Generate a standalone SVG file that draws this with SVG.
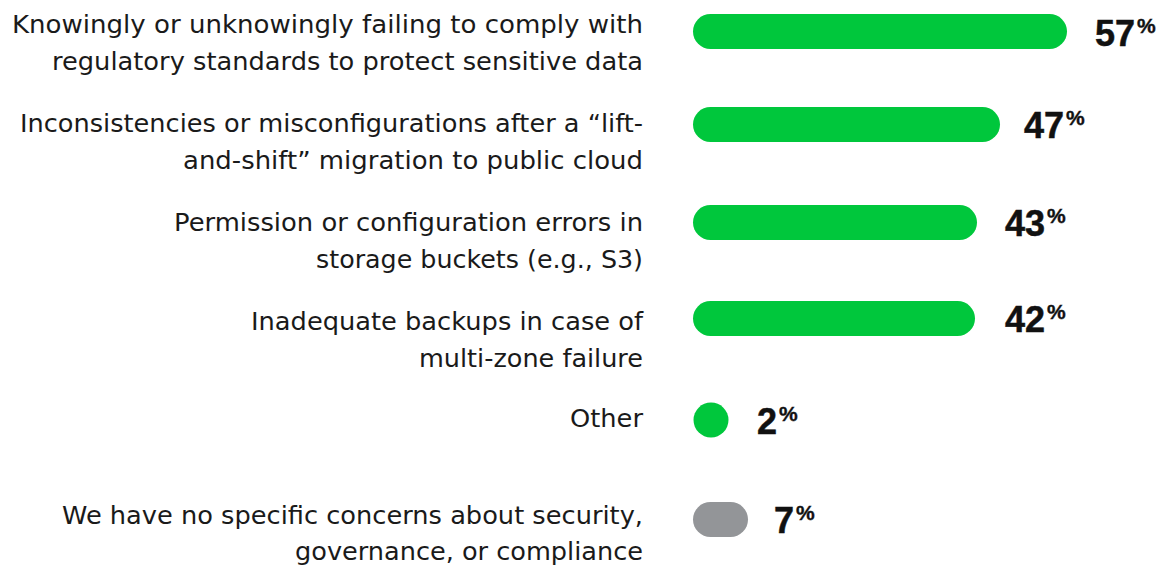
<svg xmlns="http://www.w3.org/2000/svg" width="1162" height="565" viewBox="0 0 1162 565">
<style>
.lbl{font-family:"DejaVu Sans","Liberation Sans",Arial,sans-serif;font-size:25px;fill:#1a1a1a;text-anchor:end}
.num{font-family:"Liberation Sans",Arial,sans-serif;font-size:36px;font-weight:bold;fill:#111;stroke:#111;stroke-width:0.5}
.pct{font-size:21px;stroke-width:0.4}
.bar{fill:#00C73C}
.gray{fill:#939598}
</style>
<rect width="1162" height="565" fill="#fff"/>
<g id="row1">
<text class="lbl" x="643" y="33" textLength="631" lengthAdjust="spacingAndGlyphs">Knowingly or unknowingly failing to comply with</text>
<text class="lbl" x="643" y="70" textLength="591" lengthAdjust="spacingAndGlyphs">regulatory standards to protect sensitive data</text>
<rect class="bar" x="693" y="14" width="374" height="35" rx="17.5"/>
<text class="num" x="1095" y="46">57<tspan class="pct" dx="2" dy="-13">%</tspan></text>
</g>
<g id="row2">
<text class="lbl" x="643" y="132" textLength="623" lengthAdjust="spacingAndGlyphs">Inconsistencies or misconfigurations after a “lift-</text>
<text class="lbl" x="643" y="169" textLength="460" lengthAdjust="spacingAndGlyphs">and-shift” migration to public cloud</text>
<rect class="bar" x="693" y="107" width="307" height="35" rx="17.5"/>
<text class="num" x="1024" y="138">47<tspan class="pct" dx="2" dy="-13">%</tspan></text>
</g>
<g id="row3">
<text class="lbl" x="643" y="231" textLength="469" lengthAdjust="spacingAndGlyphs">Permission or configuration errors in</text>
<text class="lbl" x="643" y="268" textLength="327" lengthAdjust="spacingAndGlyphs">storage buckets (e.g., S3)</text>
<rect class="bar" x="693" y="205" width="284" height="35" rx="17.5"/>
<text class="num" x="1005" y="236">43<tspan class="pct" dx="2" dy="-13">%</tspan></text>
</g>
<g id="row4">
<text class="lbl" x="643" y="330" textLength="392" lengthAdjust="spacingAndGlyphs">Inadequate backups in case of</text>
<text class="lbl" x="643" y="367" textLength="224" lengthAdjust="spacingAndGlyphs">multi-zone failure</text>
<rect class="bar" x="693" y="301" width="282" height="35" rx="17.5"/>
<text class="num" x="1005" y="332">42<tspan class="pct" dx="2" dy="-13">%</tspan></text>
</g>
<g id="row5">
<text class="lbl" x="643" y="427" textLength="73" lengthAdjust="spacingAndGlyphs">Other</text>
<circle class="bar" cx="711" cy="420" r="17.5"/>
<text class="num" x="757" y="434">2<tspan class="pct" dx="2" dy="-13">%</tspan></text>
</g>
<g id="row6">
<text class="lbl" x="643" y="524" textLength="581" lengthAdjust="spacingAndGlyphs">We have no specific concerns about security,</text>
<text class="lbl" x="643" y="560" textLength="348" lengthAdjust="spacingAndGlyphs">governance, or compliance</text>
<rect class="gray" x="693" y="502" width="55" height="35" rx="17.5"/>
<text class="num" x="774" y="533">7<tspan class="pct" dx="2" dy="-13">%</tspan></text>
</g>
<g id="connectors"/>
</svg>
